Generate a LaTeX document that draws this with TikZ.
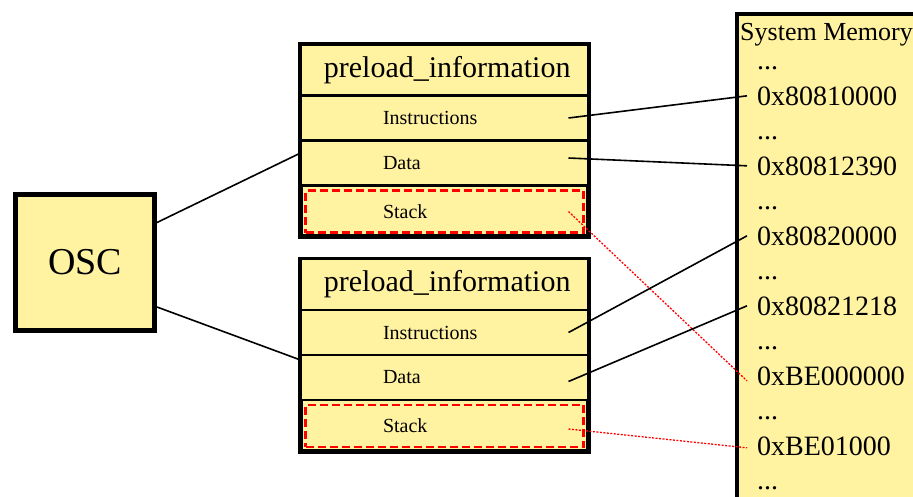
\documentclass[tikz,border=0pt]{standalone}
\usepackage{fontspec}
\setmainfont{Liberation Serif}
\usetikzlibrary{positioning,calc}
\definecolor{memyellow}{HTML}{FFF2A1}

\begin{document}
\begin{tikzpicture}[x=1pt, y=-1pt,
  frame/.style={draw, fill=memyellow, line width=5pt, outer sep=0pt, minimum width=288pt, minimum height=192pt},
  row/.style={draw, fill=memyellow, line width=2.5pt, outer sep=0pt, minimum width=288pt, inner sep=0pt},
  field/.style={row, minimum height=45pt, text width=123pt, align=left, font=\fontsize{20}{22}\selectfont},
  stackrow/.style={draw=red, dash pattern=on 8pt off 4pt, line width=2.5pt, fill=memyellow, outer sep=0pt, inner sep=0pt,
    minimum width=278pt, minimum height=42pt, text width=123pt, align=left, font=\fontsize{20}{22}\selectfont},
  title/.style={row, minimum height=51pt, text width=252pt, align=right, font=\fontsize{30}{32}\selectfont},
  addr/.style={anchor=base west, inner xsep=10pt, inner ysep=2pt, font=\fontsize{28}{30}\selectfont},
  link/.style={line width=1.6pt},
  stacklink/.style={red, line width=1.3pt, dash pattern=on 2pt off 1.5pt}
]
\path[use as bounding box, clip] (0,0) rectangle (913,496);

% OSC
\node[draw, fill=memyellow, line width=5pt, minimum width=139pt, minimum height=136pt,
  font=\fontsize{38}{40}\selectfont] (osc) at (85,262.5) {OSC};

% first preload block
\node[frame] (box1) at (444.5,140.5) {};
\node[title, anchor=north] (hdr1) at (box1.north) {preload\_information};
\node[field, below=0pt of hdr1] (ins1) {Instructions};
\node[field, below=0pt of ins1] (dat1) {Data};
\node[stackrow, below=5pt of dat1] (stk1) {Stack};

% second preload block
\node[frame] (box2) at (444.5,355) {};
\node[title, anchor=north] (hdr2) at (box2.north) {preload\_information};
\node[field, below=0pt of hdr2] (ins2) {Instructions};
\node[field, below=0pt of ins2] (dat2) {Data};
\node[stackrow, below=5pt of dat2] (stk2) {Stack};

% system memory
\node[draw, fill=memyellow, line width=4pt, outer sep=0pt, minimum width=200pt, minimum height=500pt,
  anchor=north west] (mem) at (737,14) {};
\node[anchor=base west, inner sep=0pt, font=\fontsize{26}{28}\selectfont] (memtitle) at (740,40) {System Memory};
\foreach \k in {0,...,6}
  \node[addr] (d\k) at (747,{69+70*\k}) {...};
\foreach \a [count=\i] in {0x80810000,0x80812390,0x80820000,0x80821218,0xBE000000,0xBE01000}
  \node[addr] (a\i) at (747,{35+70*\i}) {\a};

% links
\draw[link] ([shift={(0,-40)}]osc.east) -- ([shift={(0,12.5)}]box1.west);
\draw[link] ([shift={(0,44.5)}]osc.east) -- ([shift={(0,5)}]box2.west);

\draw[link] ([shift={(-20,0)}]ins1.east) -- (a1.west);
\draw[link] ([shift={(-20,-5)}]dat1.east) -- (a2.west);
\draw[stacklink] ([shift={(-15,0)}]stk1.east) -- ([shift={(0,5)}]a5.west);
\draw[link] ([shift={(-20,0)}]ins2.east) -- (a3.west);
\draw[link] ([shift={(-20,4)}]dat2.east) -- (a4.west);
\draw[stacklink] ([shift={(-15,3)}]stk2.east) -- ([shift={(0,2)}]a6.west);
\end{tikzpicture}
\end{document}
